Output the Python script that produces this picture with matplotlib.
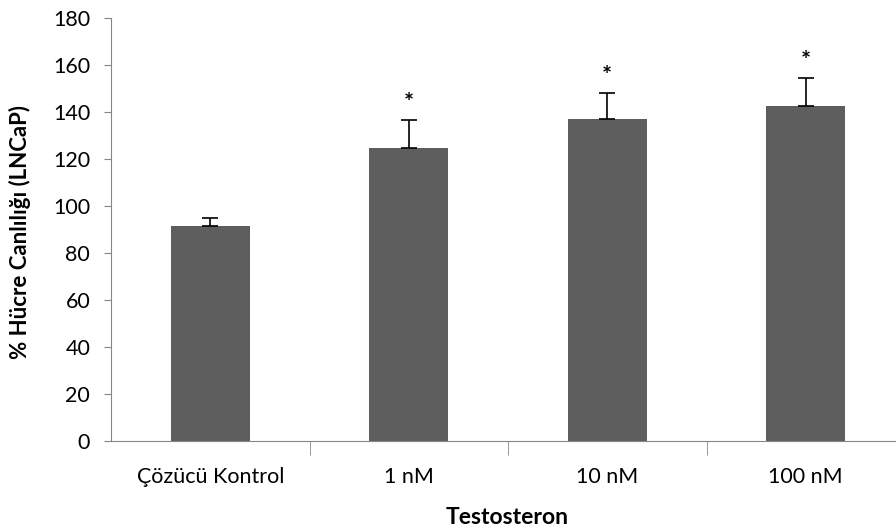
import matplotlib
matplotlib.use("Agg")
import matplotlib.pyplot as plt

plt.rcParams['font.family'] = ['Lato', 'DejaVu Sans']

# data
groups = ["Çözücü Kontrol", "1 nM", "10 nM", "100 nM"]
viability = [91.5, 124.5, 137.0, 142.5]
err_up = [3.5, 12.0, 11.0, 12.0]
signif = ["", "*", "*", "*"]

fig = plt.figure(figsize=(8.96, 5.30), dpi=100)
ax = fig.add_axes([111/896, 89/530, 794/896, 423/530])

x = range(len(groups))
ax.bar(x, viability, width=0.4, color='#5e5e5e', zorder=2)
ax.errorbar(x, viability, yerr=[[0]*len(err_up), err_up], fmt='none',
            ecolor='black', elinewidth=1.2, capsize=6, capthick=1.2, zorder=3)

for i, s in enumerate(signif):
    if s:
        ax.text(i, viability[i] + err_up[i] + 7, s, ha='center', va='center',
                fontsize=17, fontweight='bold')

ax.set_xlim(-0.5, len(groups) - 0.5)
ax.set_ylim(0, 180)
ax.set_yticks(range(0, 181, 20))
ax.set_xticks(x)
ax.set_xticklabels(groups, fontsize=15.5)
ax.set_xticks([i + 0.5 for i in range(len(groups) - 1)], minor=True)
ax.tick_params(axis='x', which='major', length=0, pad=19)
ax.tick_params(axis='x', which='minor', length=10, color='#868686')
ax.tick_params(axis='y', labelsize=15.5, length=5, pad=10, color='#868686')

for side in ['top', 'right']:
    ax.spines[side].set_visible(False)
for side in ['left', 'bottom']:
    ax.spines[side].set_color('#868686')

fig.text(20/896, 1 - 232/530, "% Hücre Canlılığı (LNCaP)", rotation=90,
         ha='center', va='center', fontsize=16, fontweight='bold')
fig.text(507/896, 1 - 517/530, "Testosteron", ha='center', va='center',
         fontsize=16.5, fontweight='bold')

fig.savefig("out.png", dpi=100)
